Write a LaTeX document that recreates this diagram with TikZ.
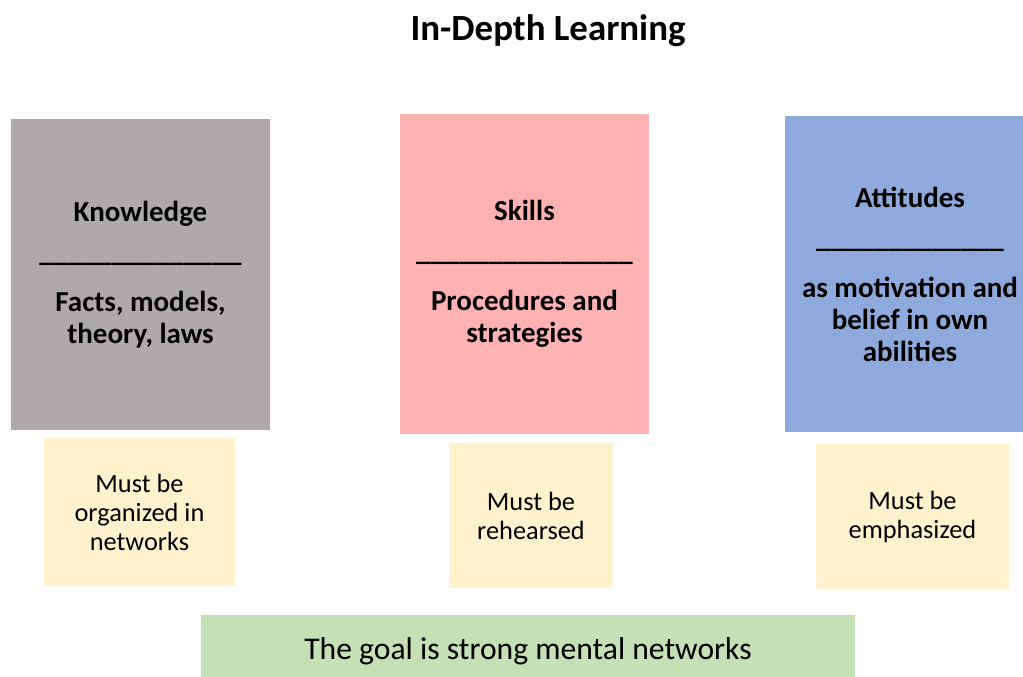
\documentclass[tikz,border=0pt]{standalone}
\usepackage{fontspec}
\setmainfont{Carlito}
\definecolor{knowgray}{HTML}{AEAAAA}
\definecolor{skillpink}{HTML}{FFB2B2}
\definecolor{attblue}{HTML}{8EA9DB}
\definecolor{notefill}{HTML}{FFF2CC}
\definecolor{goalgreen}{HTML}{C5E0B4}
\tikzset{
  heading/.style={font=\bfseries\fontsize{21}{25}\selectfont},
  bigbox/.style={inner sep=0pt, align=center, font=\bfseries\fontsize{16.5}{18.2}\selectfont},
  notebox/.style={fill=notefill, inner sep=0pt, align=center, font=\fontsize{15}{16.5}\selectfont},
  goalbox/.style={fill=goalgreen, inner sep=0pt, font=\fontsize{18}{21}\selectfont},
}

\begin{document}
\begin{tikzpicture}[x=0.02cm, y=-0.02cm]
\useasboundingbox (0,0) rectangle (1023,676);
\node[heading] (title) at (548,31) {In-Depth Learning};
% the three columns
\node[bigbox, fill=knowgray, minimum width=5.18cm, minimum height=6.22cm] (knowledge) at (140.5,274.5)
  {Knowledge\\[4.6pt]\_\_\_\_\_\_\_\_\_\_\_\_\_\_\\[10.2pt]Facts, models,\\theory, laws};
\node[bigbox, fill=skillpink, minimum width=4.98cm, minimum height=6.40cm] (skills) at (524.5,274)
  {Skills\\[4.6pt]\_\_\_\_\_\_\_\_\_\_\_\_\_\_\_\\[10.2pt]Procedures and\\strategies};
\node[bigbox, fill=attblue, minimum width=5.00cm, minimum height=6.32cm] (attitudes) at (910,274)
  {Attitudes\\[4.6pt]\_\_\_\_\_\_\_\_\_\_\_\_\_\\[10.2pt]as motivation and\\belief in own\\abilities};
% notes below
\node[notebox, minimum width=3.82cm, minimum height=2.96cm] (organized) at (139.5,512)
  {Must be\\organized in\\networks};
\node[notebox, minimum width=3.28cm, minimum height=2.90cm] (rehearsed) at (531,515.5)
  {Must be\\rehearsed};
\node[notebox, minimum width=3.86cm, minimum height=2.90cm] (emphasized) at (912.5,516.5)
  {Must be\\emphasized};
% runs past the bottom edge
\node[goalbox, minimum width=13.08cm, minimum height=1.46cm] (goal) at (528,651.5)
  {The goal is strong mental networks};
\end{tikzpicture}
\end{document}
